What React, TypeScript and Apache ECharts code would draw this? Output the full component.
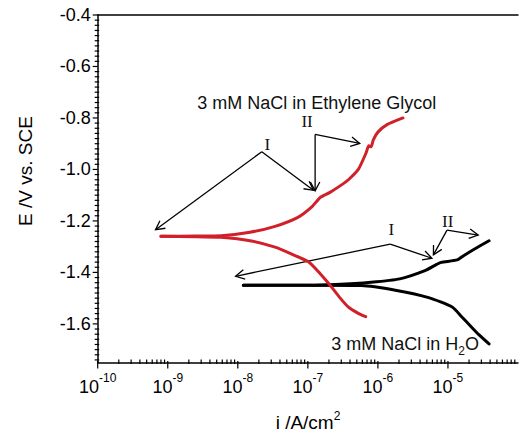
import React, { useEffect, useRef } from 'react';
import * as echarts from 'echarts';

// ---- data (current density in A/cm^2, potential in V vs. SCE) ----
const EG_ANODIC_I = [8.0e-10, 2.5e-9, 5.8e-9, 1.49e-8, 3.4e-8, 7.2e-8, 1.15e-7, 1.5e-7, 2.04e-7, 3.1e-7, 3.8e-7, 5.25e-7, 6.8e-7, 7.4e-7, 8.0e-7, 8.6e-7, 1.0e-6, 1.35e-6, 2.28e-6];
const EG_ANODIC_E = [-1.26, -1.259, -1.2575, -1.244, -1.221, -1.186, -1.144, -1.109, -1.09, -1.058, -1.04, -1.0, -0.935, -0.908, -0.912, -0.885, -0.855, -0.826, -0.8];
const EG_CATHODIC_I = [8.0e-10, 2.5e-9, 5.8e-9, 1.49e-8, 3.4e-8, 5.8e-8, 1.02e-7, 1.5e-7, 2.04e-7, 2.8e-7, 3.8e-7, 5.25e-7, 6.7e-7];
const EG_CATHODIC_E = [-1.26, -1.261, -1.2637, -1.277, -1.302, -1.328, -1.359, -1.405, -1.447, -1.495, -1.535, -1.559, -1.572];
const W_ANODIC_I = [1.2e-8, 1e-7, 2.5e-7, 8e-7, 2.05e-6, 4.7e-6, 6.9e-6, 8e-6, 1.35e-5, 1.67e-5, 2.54e-5, 3.86e-5];
const W_ANODIC_E = [-1.45, -1.45, -1.447, -1.438, -1.425, -1.393, -1.369, -1.361, -1.3515, -1.335, -1.305, -1.277];
const W_CATHODIC_I = [1.2e-8, 1e-7, 5.8e-7, 1.85e-6, 5.3e-6, 1.15e-5, 1.57e-5, 2.06e-5, 2.76e-5, 3.86e-5];
const W_CATHODIC_E = [-1.45, -1.45, -1.451, -1.47, -1.498, -1.5345, -1.572, -1.606, -1.642, -1.678];

// annotation arrows: [fromI, fromE, toI, toE]
const ARROWS = [
  [2.2e-8, -0.931, 6.7e-10, -1.234],
  [2.2e-8, -0.931, 1.2e-7, -1.081],
  [1.27e-7, -0.864, 1.27e-7, -1.083],
  [1.27e-7, -0.864, 5.5e-7, -0.899],
  [1.5e-6, -1.29, 9.3e-9, -1.415],
  [1.5e-6, -1.29, 5.9e-6, -1.345],
  [9.7e-6, -1.2355, 6.2e-6, -1.332],
  [9.7e-6, -1.2355, 2.7e-5, -1.255],
];
// annotation labels: [i, E, index into LABEL_TEXTS]
const LABEL_TEXTS = ['3 mM NaCl in Ethylene Glycol', '3 mM NaCl in H{sub|2}O', 'I', 'II', 'I', 'II'];
const LABEL_POS = [
  [1.34e-7, -0.74, 0],
  [2.45e-6, -1.68, 1],
  [2.65e-8, -0.903, 2],
  [9.75e-8, -0.812, 3],
  [1.55e-6, -1.234, 4],
  [9.9e-6, -1.203, 5],
];

// axes
const X_MIN = 1e-10;
const X_MAX = 1e-4;
const X_DECADES = [-10, -9, -8, -7, -6, -5];
const X_MINOR_FACTORS = [2, 3, 4, 5, 6, 7, 8, 9];
const Y_MIN = -1.75;
const Y_MAX = -0.4;
const Y_MAJOR = [-1.6, -1.4, -1.2, -1.0, -0.8, -0.6, -0.4];
const Y_MINOR_STEP = 0.02;

const FONT = "'Liberation Sans', Arial, Helvetica, sans-serif";
const SERIF = "'Liberation Serif', 'Times New Roman', serif";

const zip = (a: number[], b: number[]) => a.map((v, k) => [v, b[k]]);

export default function App() {
  const ref = useRef<HTMLDivElement>(null);
  useEffect(() => {
    if (!ref.current) return;
    const chart = echarts.init(ref.current, undefined, { renderer: 'svg' });

    // tick data: [x, y, kind] kind 0 = y major, 1 = y minor, 2 = x major, 3 = x minor
    const ticks: number[][] = [];
    Y_MAJOR.forEach((v) => ticks.push([X_MIN, v, 0]));
    const nMinor = Math.round((Y_MAX - Y_MIN) / Y_MINOR_STEP);
    for (let k = 1; k < nMinor + 1; k++) {
      const v = Y_MAX - k * Y_MINOR_STEP;
      if (v <= Y_MIN + 1e-6) break;
      const isMajor = Y_MAJOR.some((m) => Math.abs(m - v) < 1e-6);
      if (!isMajor) ticks.push([X_MIN, v, 1]);
    }
    X_DECADES.forEach((d) => {
      ticks.push([Math.pow(10, d), Y_MIN, 2]);
      X_MINOR_FACTORS.forEach((f) => ticks.push([f * Math.pow(10, d), Y_MIN, 3]));
    });

    const lineStyleBase = { width: 3, cap: 'round', join: 'round' };

    chart.setOption({
      animation: false,
      backgroundColor: '#fff',
      grid: { left: 97.7, right: -15.9, top: 15, bottom: 70.5, containLabel: false },
      xAxis: [
        {
          type: 'log',
          logBase: 10,
          min: X_MIN,
          max: X_MAX,
          splitNumber: 6,
          position: 'bottom',
          axisLine: { show: true, onZero: false, lineStyle: { color: '#000', width: 1.5 } },
          axisTick: { show: false },
          minorTick: { show: false },
          splitLine: { show: false },
          axisLabel: {
            margin: 9,
            color: '#000',
            formatter: (v: number) => {
              const n = Math.round(Math.log10(v));
              if (!X_DECADES.includes(n)) return '';
              return `{b|10}{s|${n}}`;
            },
            rich: {
              b: { fontSize: 18, fontFamily: FONT, color: '#000', lineHeight: 24, verticalAlign: 'bottom' },
              s: { fontSize: 12, fontFamily: FONT, color: '#000', lineHeight: 24, verticalAlign: 'top' },
            },
          },
        },
        {
          type: 'log',
          logBase: 10,
          min: X_MIN,
          max: X_MAX,
          position: 'top',
          axisLine: { show: true, onZero: false, lineStyle: { color: '#000', width: 1.5 } },
          axisTick: { show: false },
          axisLabel: { show: false },
          splitLine: { show: false },
        },
      ],
      yAxis: {
        type: 'value',
        min: Y_MIN,
        max: Y_MAX,
        splitNumber: 7,
        axisLine: { show: true, onZero: false, lineStyle: { color: '#000', width: 1.5 } },
        axisTick: { show: false },
        splitLine: { show: false },
        axisLabel: {
          showMinLabel: false,
          margin: 7,
          color: '#000',
          fontSize: 18,
          fontFamily: FONT,
          formatter: (v: number) => (Y_MAJOR.some((m) => Math.abs(m - v) < 1e-6) ? v.toFixed(1) : ''),
        },
      },
      graphic: [
        {
          type: 'text',
          x: 308,
          y: 422,
          style: {
            text: 'i /A/cm{s|2}',
            fontSize: 19,
            fontFamily: FONT,
            fill: '#000',
            align: 'center',
            verticalAlign: 'middle',
            rich: {
              s: { fontSize: 12, fontFamily: FONT, verticalAlign: 'top', lineHeight: 24 },
            },
          },
        },
        {
          type: 'text',
          x: 25,
          y: 171,
          rotation: Math.PI / 2,
          style: {
            text: 'E /V vs. SCE',
            fontSize: 19,
            fontFamily: FONT,
            fill: '#000',
            align: 'center',
            verticalAlign: 'middle',
          },
        },
      ],
      series: [
        {
          type: 'line',
          name: 'H2O anodic',
          data: zip(W_ANODIC_I, W_ANODIC_E),
          showSymbol: false,
          symbol: 'none',
          smooth: 0.2,
          lineStyle: { ...lineStyleBase, color: '#000' },
        },
        {
          type: 'line',
          name: 'H2O cathodic',
          data: zip(W_CATHODIC_I, W_CATHODIC_E),
          showSymbol: false,
          symbol: 'none',
          smooth: 0.2,
          lineStyle: { ...lineStyleBase, color: '#000' },
        },
        {
          type: 'line',
          name: 'EG anodic',
          data: zip(EG_ANODIC_I, EG_ANODIC_E),
          showSymbol: false,
          symbol: 'none',
          smooth: 0.2,
          lineStyle: { ...lineStyleBase, color: '#d0212a' },
        },
        {
          type: 'line',
          name: 'EG cathodic',
          data: zip(EG_CATHODIC_I, EG_CATHODIC_E),
          showSymbol: false,
          symbol: 'none',
          smooth: 0.2,
          lineStyle: { ...lineStyleBase, color: '#d0212a' },
        },
        {
          type: 'custom',
          name: 'arrows',
          clip: false,
          silent: true,
          data: ARROWS,
          encode: { x: 0, y: 1 },
          renderItem: (params: any, api: any) => {
            const p0 = api.coord([api.value(0), api.value(1)]);
            const p1 = api.coord([api.value(2), api.value(3)]);
            const dx = p1[0] - p0[0];
            const dy = p1[1] - p0[1];
            const len = Math.sqrt(dx * dx + dy * dy) || 1;
            const ux = dx / len;
            const uy = dy / len;
            const hl = 10;
            const ang = (28 * Math.PI) / 180;
            const c = Math.cos(ang);
            const s = Math.sin(ang);
            const h1 = [p1[0] - hl * (ux * c - uy * s), p1[1] - hl * (uy * c + ux * s)];
            const h2 = [p1[0] - hl * (ux * c + uy * s), p1[1] - hl * (uy * c - ux * s)];
            const st = { stroke: '#000', lineWidth: 1.3, fill: 'none' };
            return {
              type: 'group',
              children: [
                { type: 'line', shape: { x1: p0[0], y1: p0[1], x2: p1[0], y2: p1[1] }, style: st },
                { type: 'polyline', shape: { points: [h1, p1, h2] }, style: st },
              ],
            };
          },
        },
        {
          type: 'custom',
          name: 'labels',
          clip: false,
          silent: true,
          data: LABEL_POS,
          encode: { x: 0, y: 1 },
          renderItem: (params: any, api: any) => {
            const p = api.coord([api.value(0), api.value(1)]);
            const idx = api.value(2);
            const txt = LABEL_TEXTS[idx];
            const roman = idx >= 2;
            return {
              type: 'text',
              x: p[0],
              y: p[1],
              style: {
                text: txt,
                fontSize: roman ? 17 : 18,
                fontFamily: roman ? SERIF : FONT,
                fill: '#111',
                align: 'center',
                verticalAlign: 'middle',
                rich: {
                  sub: { fontSize: 12, fontFamily: FONT, fill: '#111', verticalAlign: 'bottom', lineHeight: 26 },
                },
              },
            };
          },
        },
        {
          type: 'custom',
          name: 'ticks',
          clip: false,
          silent: true,
          data: ticks,
          encode: { x: 0, y: 1 },
          renderItem: (params: any, api: any) => {
            const p = api.coord([api.value(0), api.value(1)]);
            const kind = api.value(2);
            let shape;
            if (kind === 0) shape = { x1: p[0] - 5, y1: p[1], x2: p[0], y2: p[1] };
            else if (kind === 1) shape = { x1: p[0] - 3, y1: p[1], x2: p[0] + 1.5, y2: p[1] };
            else if (kind === 2) shape = { x1: p[0], y1: p[1] - 1.5, x2: p[0], y2: p[1] + 6 };
            else shape = { x1: p[0], y1: p[1] - 3, x2: p[0], y2: p[1] + 1.5 };
            return { type: 'line', shape, style: { stroke: '#000', lineWidth: 1.2 } };
          },
        },
      ],
    });
    return () => chart.dispose();
  }, []);
  return <div ref={ref} style={{ position: 'absolute', left: 0, top: 0, width: 521, height: 433 }} />;
}
